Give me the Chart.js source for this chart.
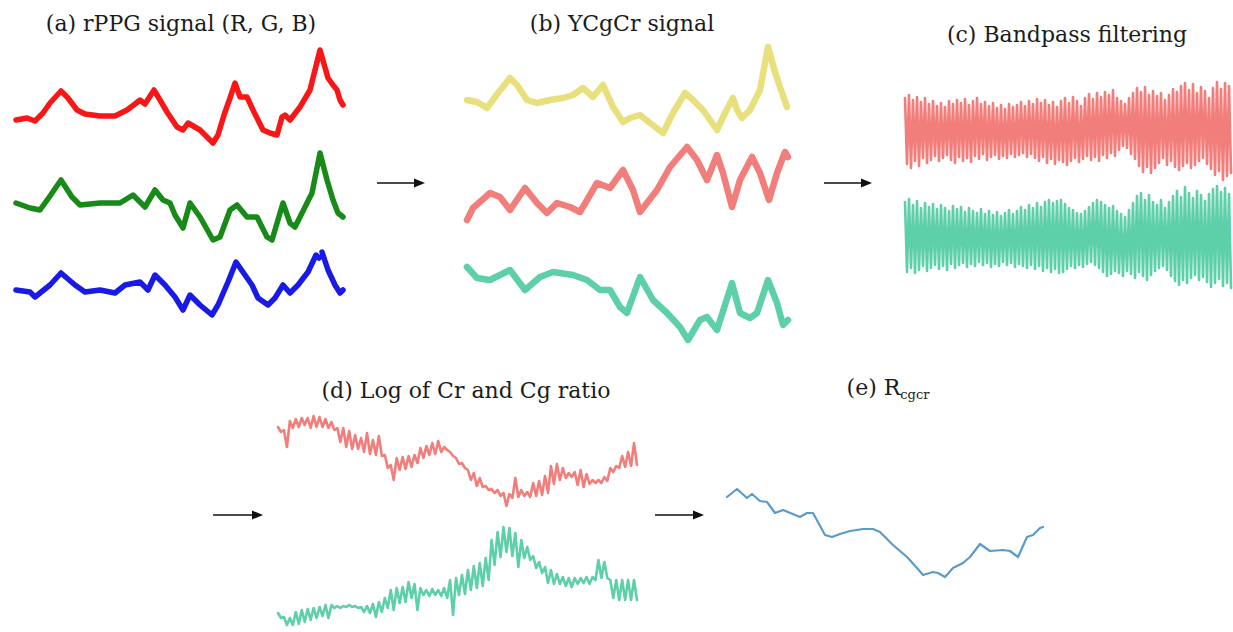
<!DOCTYPE html>
<html><head><meta charset="utf-8">
<script src="https://cdn.jsdelivr.net/npm/chart.js@4"></script>
<style>
html,body{margin:0;padding:0;background:#fff;}
body{width:1233px;height:632px;position:relative;overflow:hidden;font-family:"DejaVu Serif",serif;}
.t{position:absolute;color:#1c1c1c;font-size:22px;white-space:nowrap;transform:translate(-50%,-50%);line-height:1;}
.t sub{font-size:13px;vertical-align:-4px;}
canvas{position:absolute;}
svg{position:absolute;left:0;top:0;}
</style></head><body>
<div class="t" style="left:181px;top:24px">(a) rPPG signal (R, G, B)</div>
<div class="t" style="left:622px;top:24px">(b) YCgCr signal</div>
<div class="t" style="left:1067px;top:35px">(c) Bandpass filtering</div>
<div class="t" style="left:466px;top:391px">(d) Log of Cr and Cg ratio</div>
<div class="t" style="left:888px;top:389px">(e) R<sub>cgcr</sub></div>
<svg width="1233" height="632">
  <g stroke="#111" stroke-width="1.4">
    <line x1="377" y1="183" x2="416" y2="183"/>
    <line x1="824" y1="183" x2="863" y2="183"/>
    <line x1="213" y1="515" x2="254" y2="515"/>
    <line x1="655" y1="515" x2="695" y2="515"/>
  </g>
  <g fill="#111">
    <polygon points="425,183 414,178.5 414,187.5"/>
    <polygon points="872,183 861,178.5 861,187.5"/>
    <polygon points="263,515 252,510.5 252,519.5"/>
    <polygon points="704,515 693,510.5 693,519.5"/>
  </g>
</svg>
<script>
// ---- (a) rPPG signal: time (samples) and amplitude ----
const aRedT = [0,11,19,27,34,45,52,61,69,84,99,111,119,124,129,138,144,151,161,167,172,184,189,197,202,208,214,219,224,231,237,247,254,261,266,269,274,284,294,304,312,317,321,324,327];
const aRedV = [0,2,-1,7,17,29,22,10,6,4,4,10,16,20,16,30,20,8,-7,-10,-3,-10,-15,-23,-15,5,22,37,23,23,10,-10,-13,-15,3,5,0,13,30,70,42,35,30,20,15];
const aGreenT = [0,14,24,34,45,56,64,84,104,117,129,139,147,154,159,167,174,184,197,204,214,221,231,241,251,256,267,274,279,286,296,304,311,317,322,327];
const aGreenV = [2,-3,-5,9,25,8,0,2,2,10,-2,15,5,2,-10,-23,2,-12,-35,-32,-5,0,-12,-12,-32,-35,2,-18,-22,-8,12,52,25,5,-8,-12];
const aBlueT = [0,14,19,34,45,59,69,84,99,109,124,132,139,149,159,167,174,184,196,202,212,220,229,236,242,252,259,267,274,282,292,300,303,304.5,306,312,319,324,327];
const aBlueV = [0,-2,-7,5,17,5,-2,0,-3,5,8,0,15,5,-7,-20,-5,-15,-25,-15,8,28,15,5,-8,-15,-8,5,-3,5,18,35,32,null,38,20,5,-3,0];

// ---- (b) YCgCr signal ----
const bYT = [0,10,20,31,43,50,60,70,83,96,106,116,126,136,146,156,163,173,183,196,206,218,226,236,250,258,266,270,275,283,293,301,308,313,320];
const bYV = [0,-2,-8,7,22,15,0,-3,0,2,5,12,3,15,-7,-22,-18,-15,-23,-33,-13,7,0,-10,-30,-13,2,-10,-18,-10,10,53,28,13,-7];
const bCrT = [0,6,23,33,43,58,70,80,90,103,113,130,143,156,166,173,190,203,220,230,240,250,256,265,273,285,293,302,310,318,321];
const bCrV = [-20,-8,7,3,-10,12,-3,-13,-3,-7,-12,17,12,30,10,-12,10,33,53,40,20,45,27,-7,20,43,27,0,27,48,43];
const bCgT = [0,10,23,43,58,73,86,106,120,133,143,153,160,173,186,200,213,221,233,240,250,265,273,283,290,301,310,316,321];
const bCgV = [23,12,10,20,0,13,18,15,10,0,0,-17,-23,13,-10,-23,-37,-50,-30,-27,-40,7,-23,-28,-23,10,-13,-35,-30];

// ---- (c) Bandpass filtering: successive peaks / troughs ----
const cRedPeak = [30,33,28,31,26,30,24,27,22,25, 21,27,24,28,25,29,23,27,30,24, 26,22,25,20,23,19,24,21,23,26, 22,27,24,29,25,28,23,26,21,27, 30,25,31,27,22,30,34,29,35,31, 36,33,38,30,27,24,30,35,40,36, 41,33,37,32,35,28,33,39,36,42, 45,38,44,35,41,37,30,40,46,39, 45,42];
const cRedTrough = [-36,-40,-33,-38,-30,-35,-32,-28,-33,-30, -27,-32,-35,-29,-33,-30,-34,-28,-31,-26, -32,-29,-27,-31,-28,-30,-26,-29,-27,-25, -29,-26,-30,-33,-29,-35,-31,-36,-32,-34, -37,-33,-30,-34,-31,-28,-32,-29,-33,-27, -30,-25,-28,-22,-18,-20,-26,-31,-38,-44, -39,-45,-40,-35,-30,-37,-33,-39,-42,-38, -35,-40,-37,-33,-30,-36,-41,-47,-43,-52, -48,-45];
const cGreenPeak = [36,39,33,37,30,35,31,34,29,33, 30,27,32,29,31,26,30,27,25,29, 24,27,23,26,22,25,28,24,27,31, 28,33,30,35,31,36,38,35,37,38, 34,30,28,25,24,27,31,35,38,36, 33,30,32,27,24,21,28,35,42,45, 38,43,36,33,38,30,36,42,47,41, 51,45,40,47,43,37,44,49,52,46, 50,44];
const cGreenTrough = [-34,-30,-35,-32,-28,-33,-30,-27,-31,-28, -32,-26,-30,-27,-25,-29,-26,-28,-24,-27, -25,-29,-26,-28,-24,-27,-25,-29,-26,-28, -30,-27,-31,-28,-33,-30,-34,-31,-35,-34, -31,-28,-30,-27,-29,-26,-24,-27,-30,-34, -38,-36,-33,-35,-38,-33,-36,-40,-34,-38, -42,-37,-33,-30,-28,-32,-38,-43,-47,-42, -45,-40,-37,-42,-39,-44,-49,-45,-41,-48, -45,-50];

// ---- (d) Log of Cr and Cg ratio: upper / lower value per step ----
const dCrHi = [33,30,39,41,42,42,44,43,41,38,32,32,29,25,22,27,20,24,5,-5,2,3,4,5,12,14,17,19,13,8,2,-3,-10,-13,-18,-26,-29,-30,-33,-34,-18,-30,-32,-23,-21,-16,-6,-4,-8,-13,-12,-10,-14,-20,-20,-17,-8,-6,4,8,17];
const dCrLo = [28,13,32,33,35,32,33,33,32,30,18,13,11,11,8,6,5,4,-8,-20,-10,-9,-7,-3,2,5,6,8,10,4,-4,-8,-20,-26,-27,-30,-33,-36,-46,-38,-37,-36,-37,-36,-35,-33,-24,-20,-18,-17,-25,-27,-24,-23,-23,-21,-12,-8,-7,-6,-5];
const dCgHi = [-23,-27,-28,-22,-20,-19,-18,-17,-15,-15,-16,-16,-15,-16,-17,-16,-14,-12,-8,0,2,3,8,6,2,0,1,0,2,10,12,15,20,24,27,32,50,58,63,62,57,50,43,34,28,23,20,16,13,12,12,12,13,13,30,28,10,10,10,10,10];
const dCgLo = [-28,-35,-35,-34,-32,-30,-28,-26,-28,-18,-18,-17,-17,-18,-22,-23,-27,-22,-18,-20,-13,-12,-8,-20,-5,-6,-5,-6,-8,-25,-5,-4,0,2,4,10,25,33,38,34,23,32,30,22,17,7,6,6,4,3,6,7,6,10,12,12,-8,-10,-10,-10,-10];

// ---- (e) Rcgcr ----
const eT = [0,10,20,25,33,40,48,56,73,80,86,98,105,113,123,136,146,153,166,180,190,196,206,211,218,226,236,243,253,263,276,283,291,300,306,313,316];
const eV = [33,41,32,36,29,28,17,20,13,17,17,-5,-7,-4,-1,1,1,-2,-15,-27,-38,-45,-42,-43,-47,-38,-33,-27,-14,-21,-20,-21,-27,-7,-5,2,3];

// ---------- drawing ----------
function pairs(t, v){ return t.map((x,i)=>({x:x, y:v[i]})); }
function zigzag(hi, lo){
  const out=[];
  hi.forEach((h,i)=>{ out.push({x:2*i, y:h}); out.push({x:2*i+1, y:lo[i]}); });
  return out;
}
function trace(points, box, color, lw){
  const P = 10, half = 110;
  const c = document.createElement('canvas');
  c.width = box.w + 2*P; c.height = 2*half + 2*P;
  c.style.left = (box.l - P) + 'px';
  c.style.top = (box.base - half - P) + 'px';
  document.body.appendChild(c);
  new Chart(c, {
    type:'line',
    data:{datasets:[{data:points, borderColor:color, borderWidth:lw, pointRadius:0,
      tension:0, spanGaps:false, clip:false, borderJoinStyle:'round', borderCapStyle:'round'}]},
    options:{responsive:false, animation:false, events:[],
      layout:{padding:P},
      plugins:{legend:{display:false}, tooltip:{enabled:false}},
      scales:{x:{type:'linear', display:false, min:box.x0, max:box.x1},
              y:{type:'linear', display:false, min:-half, max:half}}}
  });
}
const RED='#f81616', GREEN='#178a17', BLUE='#1a1ae6';
const YEL='#e8e07c', PINK='#f27e7b', MINT='#5dcfa9', STEEL='#5b9bc9';

trace(pairs(aRedT,aRedV),   {l:16, w:327, base:120, x0:0, x1:327}, RED, 5.5);
trace(pairs(aGreenT,aGreenV),{l:16, w:327, base:205, x0:0, x1:327}, GREEN, 5.5);
trace(pairs(aBlueT,aBlueV), {l:16, w:327, base:290, x0:0, x1:327}, BLUE, 5.5);

trace(pairs(bYT,bYV),   {l:467, w:321, base:100, x0:0, x1:321}, YEL, 6.5);
trace(pairs(bCrT,bCrV), {l:467, w:321, base:200, x0:0, x1:321}, PINK, 6.5);
trace(pairs(bCgT,bCgV), {l:467, w:321, base:290, x0:0, x1:321}, MINT, 6.5);

trace(zigzag(cRedPeak,cRedTrough),     {l:905, w:326, base:128, x0:0, x1:2*cRedPeak.length-1}, PINK, 2.6);
trace(zigzag(cGreenPeak,cGreenTrough), {l:905, w:326, base:238, x0:0, x1:2*cGreenPeak.length-1}, MINT, 2.6);

trace(zigzag(dCrHi,dCrLo), {l:278, w:359, base:460, x0:0, x1:2*dCrHi.length-1}, PINK, 2.6);
trace(zigzag(dCgHi,dCgLo), {l:278, w:359, base:590, x0:0, x1:2*dCgHi.length-1}, MINT, 2.6);

trace(pairs(eT,eV), {l:727, w:316, base:530, x0:0, x1:316}, STEEL, 2.2);
</script>
</body></html>
